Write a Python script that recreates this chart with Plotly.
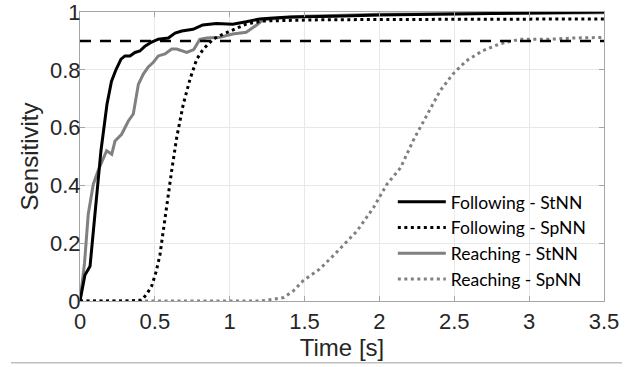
import plotly.graph_objects as go

# ---------------- data ----------------
t_f_st = [0, 0.033, 0.067, 0.105, 0.14, 0.18, 0.21, 0.24, 0.274, 0.30, 0.334, 0.367, 0.40,
          0.434, 0.479, 0.523, 0.59, 0.635, 0.68, 0.755, 0.82, 0.91, 1.02, 1.11, 1.2, 1.29,
          1.4, 1.7, 2.0, 2.5, 3.0, 3.5]
y_f_st = [0, 0.09, 0.12, 0.335, 0.52, 0.68, 0.76, 0.80, 0.837, 0.848, 0.848, 0.86, 0.865,
          0.882, 0.896, 0.906, 0.91, 0.927, 0.934, 0.94, 0.955, 0.96, 0.958, 0.966, 0.976, 0.979,
          0.983, 0.985, 0.99, 0.993, 0.997, 1.0]

t_f_sp = [0, 0.1, 0.2, 0.3, 0.41, 0.445, 0.479, 0.51, 0.534, 0.55, 0.563, 0.579, 0.612, 0.646,
          0.69, 0.735, 0.78, 0.824, 0.89, 0.957, 1.024, 1.11, 1.22, 1.34, 1.6, 2.0, 2.5, 3.0, 3.5]
y_f_sp = [0, 0, 0, 0, 0.003, 0.023, 0.052, 0.104, 0.16, 0.22, 0.277, 0.335, 0.45, 0.566,
          0.681, 0.768, 0.837, 0.872, 0.906, 0.924, 0.94, 0.958, 0.969, 0.971, 0.973, 0.974,
          0.975, 0.976, 0.976]

t_r_st = [0, 0.03, 0.055, 0.067, 0.089, 0.12, 0.145, 0.178, 0.212, 0.234, 0.278, 0.323, 0.356,
          0.39, 0.423, 0.456, 0.49, 0.523, 0.568, 0.612, 0.646, 0.713, 0.76, 0.80, 0.846, 0.935,
          1.02, 1.11, 1.18, 1.22, 1.34, 1.5, 2.0, 2.5, 3.0, 3.5]
y_r_st = [0, 0.13, 0.30, 0.335, 0.404, 0.45, 0.479, 0.52, 0.508, 0.554, 0.577, 0.623, 0.647,
          0.75, 0.785, 0.81, 0.826, 0.848, 0.855, 0.872, 0.872, 0.86, 0.87, 0.905, 0.91, 0.913,
          0.924, 0.93, 0.955, 0.972, 0.979, 0.985, 0.992, 0.995, 0.996, 0.997]

t_r_sp = [0, 0.5, 1.0, 1.2, 1.25, 1.36, 1.425, 1.49, 1.6, 1.69, 1.85, 1.96, 2.05, 2.14, 2.23,
          2.32, 2.405, 2.49, 2.58, 2.69, 2.8, 2.94, 3.14, 3.3, 3.47, 3.5]
y_r_sp = [0, 0, 0, 0, 0.003, 0.012, 0.035, 0.07, 0.11, 0.156, 0.242, 0.323, 0.404, 0.46, 0.56,
          0.647, 0.727, 0.785, 0.831, 0.866, 0.889, 0.906, 0.906, 0.91, 0.912, 0.912]

threshold = 0.9
x_range = [0, 3.5]
x_ticks = [0, 0.5, 1, 1.5, 2, 2.5, 3, 3.5]
y_ticks = [0, 0.2, 0.4, 0.6, 0.8, 1]

BLACK = "#000000"
GRAY = "#808080"
DOT = "3px,3.5px"

fig = go.Figure()
fig.add_trace(go.Scatter(x=t_r_sp, y=y_r_sp, mode="lines", name="Reaching - SpNN",
                         line=dict(color=GRAY, width=3, dash=DOT), legendrank=4))
fig.add_trace(go.Scatter(x=t_r_st, y=y_r_st, mode="lines", name="Reaching - StNN",
                         line=dict(color=GRAY, width=3), legendrank=3))
fig.add_trace(go.Scatter(x=t_f_sp, y=y_f_sp, mode="lines", name="Following - SpNN",
                         line=dict(color=BLACK, width=3, dash=DOT), legendrank=2))
fig.add_trace(go.Scatter(x=t_f_st, y=y_f_st, mode="lines", name="Following - StNN",
                         line=dict(color=BLACK, width=3), legendrank=1))
fig.add_trace(go.Scatter(x=x_range, y=[threshold, threshold], mode="lines", showlegend=False,
                         line=dict(color=BLACK, width=2.5, dash="11px,9px")))

axis_common = dict(showgrid=True, gridcolor="#e8e8e8", gridwidth=1, showline=True,
                   linecolor="#a6a6a6", linewidth=1, mirror="ticks", ticks="inside",
                   ticklen=5, tickcolor="#a6a6a6", zeroline=False, automargin=False,
                   ticklabeloverflow="allow",
                   tickfont=dict(family="Liberation Sans, Arial", size=22, color="#262626"))

fig.update_layout(
    width=644, height=367,
    margin=dict(l=80, r=40, t=12, b=66),
    paper_bgcolor="white", plot_bgcolor="white",
    xaxis=dict(range=x_range, tickvals=x_ticks, ticklabelstandoff=1,
               title=dict(text="Time [s]", font=dict(family="Liberation Sans, Arial", size=24,
                                                     color="#262626"), standoff=4),
               **axis_common),
    yaxis=dict(range=[0, 1], tickvals=y_ticks, ticklabelstandoff=-6,
               title=dict(text="Sensitivity", font=dict(family="Liberation Sans, Arial", size=24,
                                                        color="#262626"), standoff=4),
               **axis_common),
    legend=dict(x=0.597, y=0.014, xanchor="left", yanchor="bottom", bgcolor="rgba(0,0,0,0)",
                font=dict(family="Lato", size=17.5, color="#000000"), itemwidth=48,
                tracegroupgap=0),
    showlegend=True,
)

fig.add_shape(type="line", xref="paper", yref="paper", x0=-0.1317, x1=1.0344,
              y0=-0.2135, y1=-0.2135, line=dict(color="#bfbfbf", width=1.5))

fig.write_html("out.html", config={"displayModeBar": False},
               post_script="document.body.style.margin='0';")
